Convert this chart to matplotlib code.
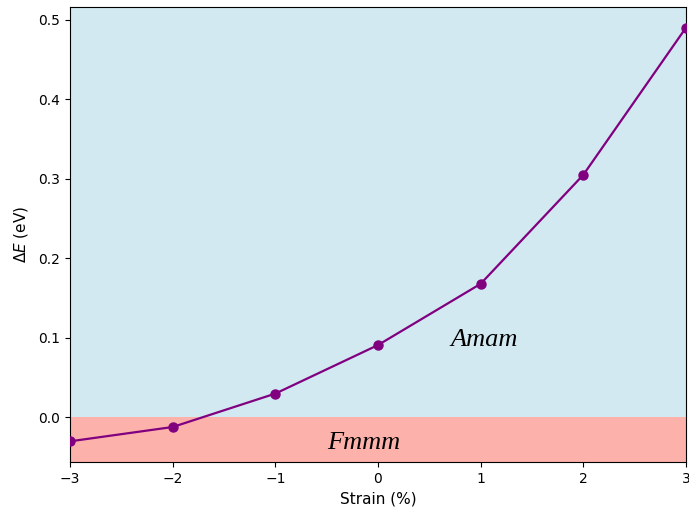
import numpy as np
import matplotlib.pyplot as plt

# Energy difference between phases vs applied strain
strain = np.array([-3, -2, -1, 0, 1, 2, 3])
delta_e = np.array([-0.030, -0.012, 0.030, 0.091, 0.168, 0.305, 0.490])

fig = plt.figure(figsize=(6.89, 5.15), dpi=100)
ax = fig.add_axes([0.1016, 0.1029, 0.8940, 0.8835])

ax.plot(strain, delta_e, color='purple', marker='o', markersize=6.5, linewidth=1.6, zorder=3)
ax.set_xlim(-3, 3)
ymin, ymax = ax.get_ylim()
ax.set_ylim(ymin, ymax)

# phase regions
ax.axhspan(0, ymax, color='lightblue', alpha=0.55, linewidth=0, zorder=0)
ax.axhspan(ymin, 0, color='salmon', alpha=0.6, linewidth=0, zorder=0)

ax.text(1.03, 0.098, 'Amam', fontsize=19, style='italic', family='Liberation Serif',
        ha='center', va='center')
ax.text(-0.14, -0.032, 'Fmmm', fontsize=19, style='italic', family='Liberation Serif',
        ha='center', va='center')

ax.set_xlabel('Strain (%)', fontsize=11)
ax.set_ylabel(r'$\Delta E$ (eV)', fontsize=11, labelpad=6)
ax.tick_params(labelsize=10)

fig.savefig('out.png', dpi=100)
